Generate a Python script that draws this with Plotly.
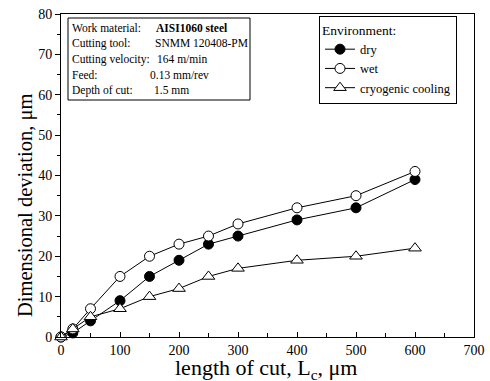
import plotly.graph_objects as go

length = [0, 20, 50, 100, 150, 200, 250, 300, 400, 500, 600]
dry = [0, 1, 4, 9, 15, 19, 23, 25, 29, 32, 39]
wet = [0, 2, 7, 15, 20, 23, 25, 28, 32, 35, 41]
cryo = [0, 2, 5, 7, 10, 12, 15, 17, 19, 20, 22]

info_labels = ["Work material:", "Cutting tool:", "Cutting velocity:", "Feed:", "Depth of cut:"]
info_values = ["<b>AISI1060 steel</b>", "SNMM 120408-PM", "164 m/min", "0.13 mm/rev", "1.5 mm"]

FONT = "Times New Roman, Liberation Serif, serif"
L, R, T, B = 61, 16, 14, 44
W, H = 490, 381
PW, PH = W - L - R, H - T - B

def px(x):
    return (x - L) / PW

def py(y):
    return (H - B - y) / PH

fig = go.Figure()
line = dict(color="black", width=1)
fig.add_trace(go.Scatter(x=length, y=dry, name="dry", mode="lines+markers", line=line, cliponaxis=False,
                         marker=dict(symbol="circle", size=10, color="black", line=dict(color="black", width=1))))
fig.add_trace(go.Scatter(x=length, y=wet, name="wet", mode="lines+markers", line=line, cliponaxis=False,
                         marker=dict(symbol="circle", size=10, color="white", line=dict(color="black", width=1))))
fig.add_trace(go.Scatter(x=length, y=cryo, name="cryogenic cooling", mode="lines+markers", line=line, cliponaxis=False,
                         marker=dict(symbol="triangle-up", size=11, color="white", line=dict(color="black", width=1))))

# info box
fig.add_shape(type="rect", xref="paper", yref="paper", x0=px(68), x1=px(250), y0=py(100), y1=py(18),
              line=dict(color="black", width=1), fillcolor="white", layer="above")
rows_y = [28, 43, 59, 75, 90]
val_x = [156, 155, 157, 150, 154]
for lab, val, yy, vx in zip(info_labels, info_values, rows_y, val_x):
    fig.add_annotation(x=px(72), y=py(yy), xref="paper", yref="paper", text=lab, showarrow=False,
                       xanchor="left", yanchor="middle", xshift=-2, font=dict(family=FONT, size=11.5, color="black"))
    fig.add_annotation(x=px(vx), y=py(yy), xref="paper", yref="paper", text=val, showarrow=False,
                       xanchor="left", yanchor="middle", xshift=-2, font=dict(family=FONT, size=11.5, color="black"))

# axis titles placed as in the reference
fig.add_annotation(x=px(25), y=py(206), xref="paper", yref="paper", text="Dimensional deviation, μm",
                   showarrow=False, textangle=-90, xanchor="center", yanchor="middle",
                   font=dict(family=FONT, size=20.5, color="black"))
fig.add_annotation(x=px(266), y=py(369), xref="paper", yref="paper", text="length of cut, L<sub>c</sub>, μm",
                   showarrow=False, xanchor="center", yanchor="middle",
                   font=dict(family=FONT, size=22, color="black"))

axis_common = dict(showline=True, linecolor="black", linewidth=1, mirror=True, showgrid=False,
                   zeroline=False, automargin=False, tickfont=dict(family=FONT, size=14, color="black"))

fig.update_layout(
    width=W, height=H, margin=dict(l=L, r=R, t=T, b=B),
    plot_bgcolor="white", paper_bgcolor="white",
    font=dict(family=FONT, color="black"),
    xaxis=dict(range=[0, 700], tickvals=[0, 100, 200, 300, 400, 500, 600, 700], ticks="inside",
               ticklen=5, tickcolor="black",
               minor=dict(dtick=50, ticks="inside", ticklen=4, tickcolor="black", tick0=0),
               **axis_common),
    yaxis=dict(range=[0, 80], dtick=10, ticks="outside", ticklen=5, tickcolor="black",
               minor=dict(dtick=5, ticks="outside", ticklen=3, tickcolor="black", tick0=0),
               **axis_common),
    legend=dict(x=px(319), y=py(16), xanchor="left", yanchor="top",
                title=dict(text="Environment:", font=dict(family=FONT, size=13.5)),
                font=dict(family=FONT, size=12.5, color="black"),
                bordercolor="black", borderwidth=1, bgcolor="white",
                tracegroupgap=0, itemwidth=30),
    showlegend=True,
)

fig.write_html("out.html")
